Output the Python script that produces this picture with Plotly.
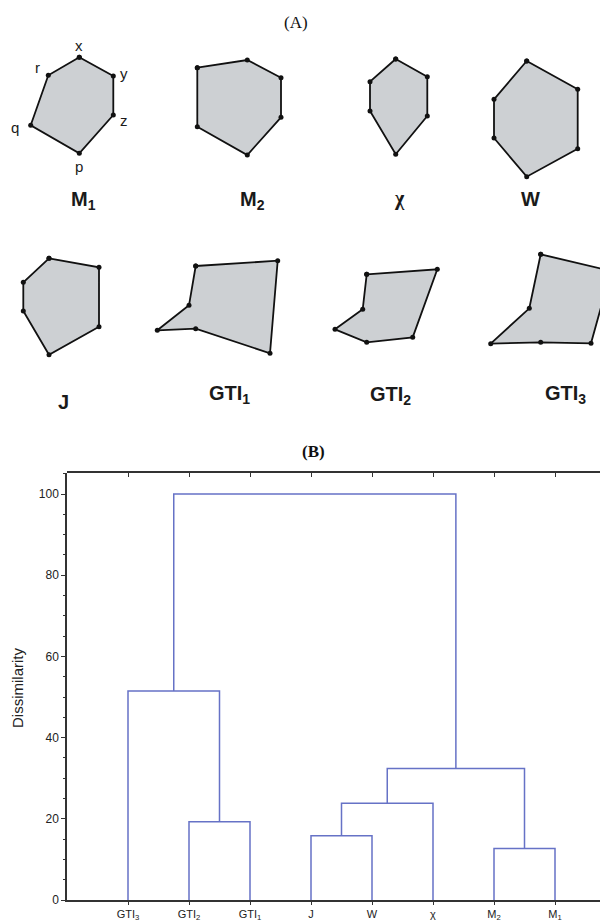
import plotly.graph_objects as go

# The page body has an 8px default margin, so the figure is drawn 8px in from the corner.
OFF = 8
FIG_W, FIG_H = 608 - OFF, 922 - OFF

# ---------------- Panel A data: landmark configurations (page pixel frame) -------------
M1_x = [79.3, 113.3, 113.3, 79.3, 30.7, 48.3]
M1_y = [57.3, 76.0, 115.0, 153.3, 125.3, 75.3]
M2_x = [197.3, 247.3, 281.0, 281.0, 247.3, 197.3]
M2_y = [67.7, 60.0, 77.7, 117.3, 155.0, 126.7]
CHI_x = [395.7, 427.3, 427.3, 395.7, 370.0, 370.0]
CHI_y = [59.0, 76.7, 116.0, 154.3, 111.0, 81.7]
W_x = [526.7, 577.7, 577.7, 526.7, 494.0, 494.0]
W_y = [61.0, 89.3, 148.7, 176.7, 138.0, 99.3]
J_x = [49.0, 99.0, 99.0, 49.0, 23.3, 23.3]
J_y = [258.3, 267.3, 326.7, 354.7, 311.0, 282.3]
GTI1_x = [195.7, 277.7, 270.0, 195.7, 157.3, 189.0]
GTI1_y = [266.0, 260.7, 353.3, 328.7, 330.3, 305.3]
GTI2_x = [366.7, 437.3, 412.7, 366.7, 335.0, 362.7]
GTI2_y = [274.3, 269.3, 337.3, 342.3, 329.3, 309.3]
GTI3_x = [540.7, 611.0, 591.0, 540.7, 490.7, 529.3]
GTI3_y = [254.3, 271.0, 343.3, 342.3, 343.7, 308.3]

shape_x = [M1_x, M2_x, CHI_x, W_x, J_x, GTI1_x, GTI2_x, GTI3_x]
shape_y = [M1_y, M2_y, CHI_y, W_y, J_y, GTI1_y, GTI2_y, GTI3_y]
shape_labels = ["M<sub>1</sub>", "M<sub>2</sub>", "χ", "W", "J",
                "GTI<sub>1</sub>", "GTI<sub>2</sub>", "GTI<sub>3</sub>"]
shape_label_x = [83, 252, 399, 530, 63, 229, 390, 565]
shape_label_y = [200, 200, 198, 199, 402, 394, 395, 394]

landmark_names = ["x", "y", "z", "p", "q", "r"]
landmark_x = [79, 124, 124, 79, 15, 37]
landmark_y = [45, 73, 120, 166, 127, 67]

# ---------------- Panel B data: dendrogram ----------------
leaves = ["GTI<sub>3</sub>", "GTI<sub>2</sub>", "GTI<sub>1</sub>", "J", "W", "χ",
          "M<sub>2</sub>", "M<sub>1</sub>"]
# merges: (child_a, child_b, height); ids < 8 are leaves, 8+k is merge k
merge_a = [1, 0, 3, 10, 6, 11, 9]
merge_b = [2, 8, 4, 5, 7, 12, 13]
merge_h = [19.3, 51.5, 15.8, 23.8, 12.7, 32.4, 100.0]
y_ticks = [0, 20, 40, 60, 80, 100]

SANS = "Liberation Sans, Arial, sans-serif"
SERIF = "Liberation Serif, Times New Roman, serif"

fig = go.Figure()

# ---- panel A polygons ----
for xs, ys in zip(shape_x, shape_y):
    fig.add_trace(go.Scatter(
        x=xs + [xs[0]], y=ys + [ys[0]], mode="lines+markers",
        fill="toself", fillcolor="#cdd0d3",
        line=dict(color="#111111", width=1.8),
        marker=dict(color="#111111", size=5),
        xaxis="x2", yaxis="y2", showlegend=False, hoverinfo="skip"))

for t, x, y in zip(shape_labels, shape_label_x, shape_label_y):
    fam = SERIF if t == "χ" else SANS
    fig.add_annotation(x=x, y=y, xref="x2", yref="y2", text="<b>%s</b>" % t,
                       showarrow=False, xanchor="center", yanchor="middle",
                       font=dict(family=fam, size=20, color="#1a1a1a"))
for t, x, y in zip(landmark_names, landmark_x, landmark_y):
    fig.add_annotation(x=x, y=y, xref="x2", yref="y2", text=t, showarrow=False,
                       xanchor="center", yanchor="middle",
                       font=dict(family=SANS, size=15, color="#1a1a1a"))

# ---- dendrogram ----
n = len(leaves)
pos_x = {i: float(i + 1) for i in range(n)}
pos_h = {i: 0.0 for i in range(n)}
dx, dy = [], []
for k, (a, b, h) in enumerate(zip(merge_a, merge_b, merge_h)):
    xa, xb = pos_x[a], pos_x[b]
    dx += [xa, xa, xb, xb, None]
    dy += [pos_h[a], h, h, pos_h[b], None]
    pos_x[n + k] = (xa + xb) / 2
    pos_h[n + k] = h

fig.add_trace(go.Scatter(x=dx, y=dy, mode="lines",
                         line=dict(color="#6672c6", width=1.5),
                         xaxis="x", yaxis="y", showlegend=False, hoverinfo="skip",
                         cliponaxis=False))
# invisible trace on a twin subplot that carries the top frame line and inside ticks
fig.add_trace(go.Scatter(x=[1], y=[0], mode="markers", marker=dict(opacity=0),
                         xaxis="x3", yaxis="y4", showlegend=False, hoverinfo="skip"))


def px_x(p):
    return (p - OFF) / FIG_W


def px_y(p):
    return 1 - (p - OFF) / FIG_H


x0_px, top_px, bot_px = 67, 473, 900
x_range = [0, (608 - x0_px) / 61.0]
y_range = [0, (bot_px - top_px) / 4.06]
y_dom = [px_y(bot_px), px_y(top_px)]
fig.update_layout(
    width=FIG_W, height=FIG_H,
    margin=dict(l=0, r=0, t=0, b=0),
    paper_bgcolor="white", plot_bgcolor="rgba(0,0,0,0)",
    xaxis=dict(domain=[px_x(x0_px), 1], range=x_range,
               tickvals=list(range(1, n + 1)), ticktext=leaves,
               ticks="outside", ticklen=3, tickcolor="#333", tickwidth=1,
               showline=True, linecolor="#333", linewidth=1.5,
               showgrid=False, zeroline=False, automargin=False,
               tickfont=dict(family=SANS, size=11, color="#222")),
    xaxis3=dict(side="top", domain=[px_x(x0_px), 1],
                range=x_range, anchor="y4",
                tickvals=list(range(1, n + 1)), showticklabels=False,
                ticks="inside", ticklen=4, tickcolor="#333",
                showline=True, linecolor="#333", linewidth=1.5,
                showgrid=False, zeroline=False),
    yaxis4=dict(domain=y_dom, range=y_range, anchor="x3", visible=False,
                showgrid=False, zeroline=False),
    yaxis=dict(domain=y_dom, range=y_range,
               tickvals=y_ticks, ticks="outside", ticklen=4, tickcolor="#333",
               minor=dict(dtick=5, ticks="outside", ticklen=2, tickcolor="#333"),
               showline=True, linecolor="#333", linewidth=1.5,
               showgrid=False, zeroline=False, automargin=False,
               tickfont=dict(family=SANS, size=12, color="#222")),
    xaxis2=dict(domain=[0, 1], range=[OFF, 608], visible=False, anchor="y2"),
    yaxis2=dict(domain=[px_y(430), 1], range=[430, OFF], visible=False, anchor="x2"),
)

fig.add_annotation(x=px_x(296), y=px_y(23), xref="paper", yref="paper",
                   text="(A)", showarrow=False, xanchor="center", yanchor="middle",
                   font=dict(family=SERIF, size=17, color="#111"))
fig.add_annotation(x=px_x(313), y=px_y(451), xref="paper", yref="paper",
                   text="<b>(B)</b>", showarrow=False, xanchor="center", yanchor="middle",
                   font=dict(family=SERIF, size=17, color="#111"))
fig.add_annotation(x=px_x(17), y=px_y(688), xref="paper", yref="paper",
                   text="Dissimilarity", textangle=-90, showarrow=False,
                   xanchor="center", yanchor="middle",
                   font=dict(family=SANS, size=15, color="#222"))

fig.write_html("out.html")
